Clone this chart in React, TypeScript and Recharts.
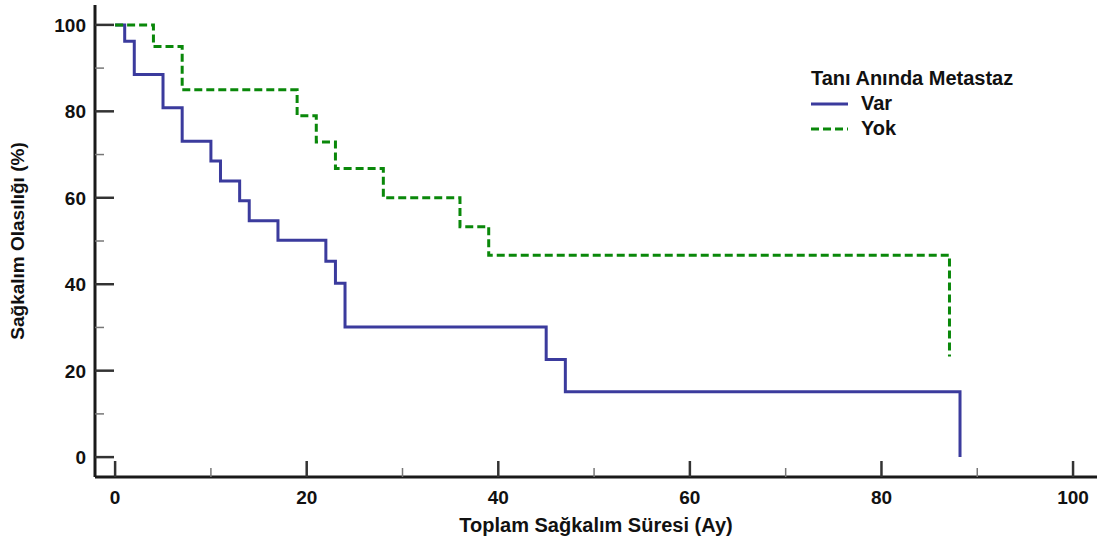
import { LineChart, Line, XAxis, YAxis, Legend } from 'recharts';

// Kaplan-Meier steps (time in months, survival in %)
const varTimes = [0, 1, 2, 5, 7, 10, 11, 13, 14, 17, 22, 23, 24, 45, 47, 88.2];
const varSurvival = [100, 96.2, 88.5, 80.8, 73.1, 68.5, 63.9, 59.3, 54.7, 50.2, 45.3, 40.2, 30.1, 22.6, 15.1, 0];

const yokTimes = [0, 4, 7, 19, 21, 23, 28, 36, 39, 87.1];
const yokSurvival = [100, 95, 85, 79, 72.9, 66.8, 60, 53.3, 46.7, 23.3];

const xTicks = [0, 10, 20, 30, 40, 50, 60, 70, 80, 90, 100];
const yTicks = [0, 10, 20, 30, 40, 50, 60, 70, 80, 90, 100];

const varData = varTimes.map((t, i) => ({ t, s: varSurvival[i] }));
const yokData = yokTimes.map((t, i) => ({ t, s: yokSurvival[i] }));

const FONT = '"Liberation Sans", Arial, sans-serif';
const INK = '#111';

const series = [
  { name: 'Var', data: varData, color: '#3b3b9d', dash: undefined as string | undefined },
  { name: 'Yok', data: yokData, color: '#0a880a', dash: '8 4' },
];

// ticks point inward, minor ones have no label
const YTick = ({ x, y, payload }: any) => {
  const major = payload.value % 20 === 0;
  return (
    <g>
      <line x1={x} x2={x + (major ? 19 : 9)} y1={y} y2={y} stroke={major ? '#333' : '#777'} strokeWidth={major ? 2.5 : 1.5} />
      {major && (
        <text x={x - 9} y={y} dy="0.36em" textAnchor="end" fontFamily={FONT} fontWeight={700} fontSize={19} fill={INK}>
          {payload.value}
        </text>
      )}
    </g>
  );
};

const XTick = ({ x, y, payload }: any) => {
  const major = payload.value % 20 === 0;
  return (
    <g>
      <line x1={x} x2={x} y1={y} y2={y - (major ? 16 : 9)} stroke={major ? '#333' : '#777'} strokeWidth={major ? 2.5 : 1.5} />
      {major && (
        <text x={x} y={y + 20} dy="0.36em" textAnchor="middle" fontFamily={FONT} fontWeight={700} fontSize={19} fill={INK}>
          {payload.value}
        </text>
      )}
    </g>
  );
};

const LegendBox = () => (
  <div style={{ fontFamily: FONT, fontWeight: 700, fontSize: 20, color: INK, lineHeight: '25px' }}>
    <div>Tanı Anında Metastaz</div>
    {series.map((s) => (
      <div key={s.name} style={{ display: 'flex', alignItems: 'center' }}>
        <svg width={37} height={10}>
          <line x1={0} x2={37} y1={5} y2={5} stroke={s.color} strokeWidth={3} strokeDasharray={s.dash} />
        </svg>
        <span style={{ marginLeft: 13 }}>{s.name}</span>
      </div>
    ))}
  </div>
);

const App = () => {
  return (
    <div style={{ position: 'absolute', left: 0, top: 0, background: '#fff' }}>
      <LineChart width={1102} height={545} margin={{ top: 5, right: 5, bottom: 0, left: 0 }}>
        <XAxis
          dataKey="t"
          type="number"
          domain={[-2.1, 102.5]}
          ticks={xTicks}
          interval={0}
          height={68}
          tickSize={0}
          tickMargin={0}
          tickLine={false}
          tick={<XTick />}
          axisLine={{ stroke: '#1a1a1a', strokeWidth: 3 }}
          label={{
            value: 'Toplam Sağkalım Süresi (Ay)',
            position: 'insideBottom',
            offset: 13,
            fontFamily: FONT,
            fontWeight: 700,
            fontSize: 20,
            fill: INK,
          }}
        />
        <YAxis
          type="number"
          domain={[-4.6, 104.6]}
          ticks={yTicks}
          interval={0}
          width={95}
          tickSize={0}
          tickMargin={0}
          tickLine={false}
          tick={<YTick />}
          axisLine={{ stroke: '#1a1a1a', strokeWidth: 3 }}
          label={{
            value: 'Sağkalım Olasılığı (%)',
            angle: -90,
            position: 'insideLeft',
            offset: 17,
            style: { textAnchor: 'middle' },
            fontFamily: FONT,
            fontWeight: 700,
            fontSize: 19,
            fill: INK,
          }}
        />
        <Legend
          layout="vertical"
          align="center"
          verticalAlign="middle"
          wrapperStyle={{ left: 811, top: 66, width: 'auto' }}
          content={<LegendBox />}
        />
        {series.map((s) => (
          <Line
            key={s.name}
            name={s.name}
            data={s.data}
            dataKey="s"
            type="stepAfter"
            stroke={s.color}
            strokeWidth={3}
            strokeDasharray={s.dash}
            dot={false}
            activeDot={false}
            isAnimationActive={false}
          />
        ))}
      </LineChart>
    </div>
  );
};

export default App;
